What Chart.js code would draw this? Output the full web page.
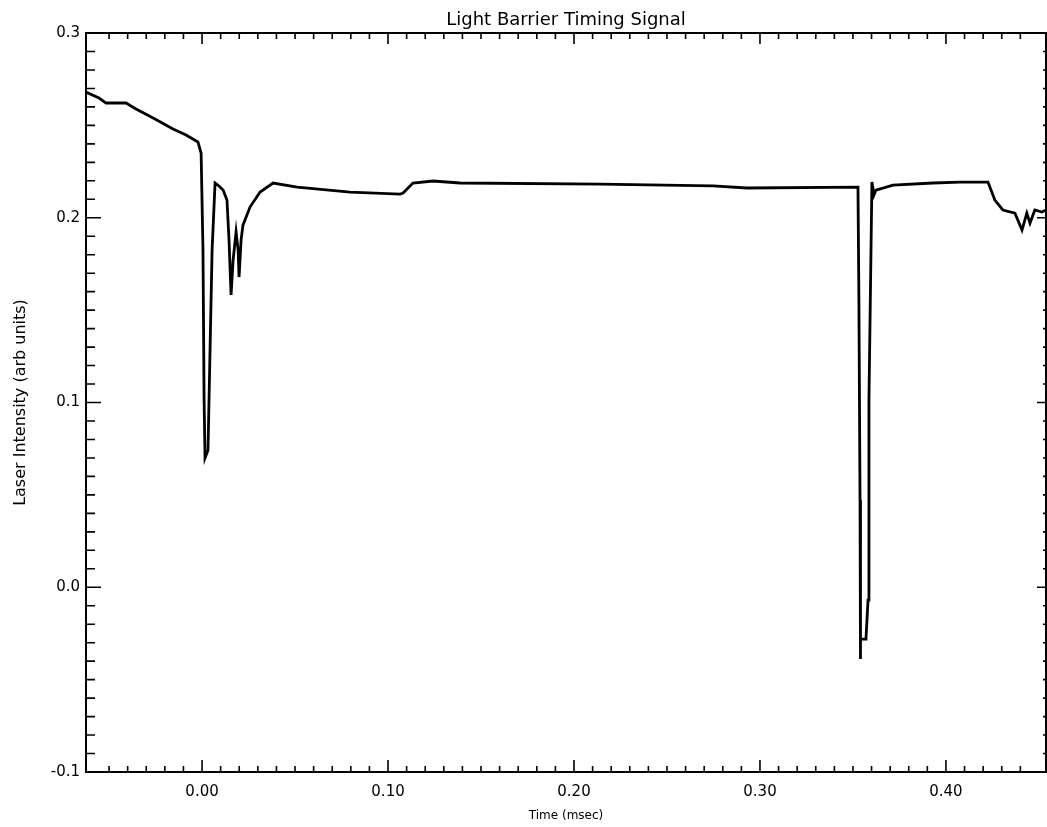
<!DOCTYPE html>
<html>
<head>
<meta charset="utf-8">
<script src="https://cdn.jsdelivr.net/npm/chart.js@4"></script>
<style>
  body { margin: 0; background: #fff; }
  #wrap { width: 1047px; height: 827px; position: relative; }
</style>
</head>
<body>
<div id="wrap"><canvas id="myChart"></canvas></div>
<script>
'use strict';

// data
let timeMs = [
  -0.0624, -0.0554, -0.0516, -0.0409, -0.0355, -0.0263, -0.0156, -0.0086, -0.0022, -0.0005,
  0.0005, 0.0011, 0.0016, 0.0032, 0.0043, 0.0054, 0.007, 0.0091, 0.0113, 0.0134,
  0.0145, 0.0156, 0.0167, 0.0183, 0.0194, 0.0199, 0.021, 0.022, 0.0258, 0.0312,
  0.0382, 0.0511, 0.0796, 0.1065, 0.1081, 0.1134, 0.1242, 0.1387, 0.214, 0.2747,
  0.293, 0.3527, 0.3532, 0.3538, 0.3538, 0.3543, 0.357, 0.3581, 0.3586, 0.3597,
  0.3602, 0.3613, 0.3624, 0.3715, 0.393, 0.4075, 0.4226, 0.4263, 0.4306, 0.4371,
  0.4409, 0.4435, 0.4452, 0.4478, 0.4516, 0.4538
];
let intensity = [
  0.268, 0.2648, 0.2621, 0.2621, 0.2589, 0.254, 0.248, 0.2448, 0.241, 0.235,
  0.1825, 0.1012, 0.07, 0.0742, 0.1284, 0.1825, 0.2188, 0.2172, 0.215, 0.2096,
  0.188, 0.1582, 0.1771, 0.1923, 0.1825, 0.1679, 0.188, 0.196, 0.2058, 0.2139,
  0.2188, 0.2166, 0.2139, 0.2128, 0.2134, 0.2188, 0.2199, 0.2188, 0.2182, 0.2172,
  0.2161, 0.2166, 0.1554, 0.0472, -0.0389, -0.0281, -0.0281, -0.007, 0.1013, 0.1825,
  0.2193, 0.2123, 0.215, 0.2177, 0.2188, 0.2193, 0.2193, 0.2096, 0.2042, 0.2025,
  0.1933, 0.2025, 0.1971, 0.2042, 0.2031, 0.2042
];

let xMin = -0.0624;
let xMax = 0.4538;
let yMin = -0.1;
let yMax = 0.3;
let minorStep = 0.01;

let points = [];
for (let i = 0; i < timeMs.length; i++) {
  points.push({ x: timeMs[i], y: intensity[i] });
}

function isMajor(v) {
  return Math.abs(v * 10 - Math.round(v * 10)) < 1e-6;
}

// inward tick marks on all four sides + frame
let inwardTicks = {
  id: 'inwardTicks',
  afterDraw(chart) {
    let c = chart.ctx;
    let a = chart.chartArea;
    let xs = chart.scales.x;
    let ys = chart.scales.y;
    c.save();
    c.strokeStyle = '#000';
    c.lineWidth = 2;
    c.strokeRect(a.left, a.top, a.right - a.left, a.bottom - a.top);
    c.lineWidth = 1.6;
    c.beginPath();
    xs.ticks.forEach(t => {
      let v = t.value;
      if (v <= xMin || v >= xMax) return;
      let px = xs.getPixelForValue(v);
      let maj = isMajor(v);
      c.moveTo(px, a.bottom);
      c.lineTo(px, a.bottom - (maj ? 12 : 6));
      c.moveTo(px, a.top);
      c.lineTo(px, a.top + (maj ? 11 : 6));
    });
    ys.ticks.forEach(t => {
      let v = t.value;
      let py = ys.getPixelForValue(v);
      let maj = isMajor(v);
      c.moveTo(a.left, py);
      c.lineTo(a.left + (maj ? 15 : 9), py);
      c.moveTo(a.right, py);
      c.lineTo(a.right - (maj ? 9 : 3), py);
    });
    c.stroke();
    c.restore();
  }
};

let ctx = document.getElementById('myChart').getContext('2d');

new Chart(ctx, { //eslint-disable-line
  type: 'line',
  data: {
    datasets: [{
      data: points,
      borderColor: '#000',
      borderWidth: 2.8,
      pointRadius: 0,
      tension: 0,
      fill: false
    }]
  },
  options: {
    responsive: true,
    maintainAspectRatio: false,
    animation: false,
    layout: { padding: { right: 1 } },
    plugins: {
      legend: { display: false },
      tooltip: { enabled: false },
      title: {
        display: true,
        text: 'Light Barrier Timing Signal',
        fullSize: false,
        color: '#000',
        font: { family: 'DejaVu Sans', size: 18, weight: 'normal' },
        padding: { top: 10, bottom: 1.4 }
      }
    },
    scales: {
      x: {
        type: 'linear',
        min: xMin,
        max: xMax,
        grid: { drawOnChartArea: false, drawTicks: false },
        border: { display: false },
        ticks: {
          stepSize: minorStep,
          autoSkip: false,
          maxRotation: 0,
          padding: 11,
          color: '#000',
          font: { family: 'DejaVu Sans', size: 15 },
          callback: v => isMajor(v) ? v.toFixed(2) : ''
        },
        title: {
          display: true,
          text: 'Time (msec)',
          color: '#000',
          font: { family: 'DejaVu Sans', size: 12 },
          padding: { top: 0, bottom: 4 }
        },
        afterFit: s => {
          s.height = 55;
          s.paddingLeft = 0;
          s.paddingRight = 0;
        }
      },
      y: {
        min: yMin,
        max: yMax,
        grid: { drawOnChartArea: false, drawTicks: false },
        border: { display: false },
        ticks: {
          stepSize: minorStep,
          autoSkip: false,
          padding: 6,
          color: '#000',
          font: { family: 'DejaVu Sans', size: 15 },
          callback: v => isMajor(v) ? v.toFixed(1) : ''
        },
        title: {
          display: true,
          text: 'Laser Intensity (arb units)',
          color: '#000',
          font: { family: 'DejaVu Sans', size: 16 },
          padding: { top: 11, bottom: 0 }
        },
        afterFit: s => {
          s.width = 86;
          s.paddingTop = 0;
          s.paddingBottom = 0;
        }
      }
    }
  },
  plugins: [inwardTicks]
});
</script>
</body>
</html>
